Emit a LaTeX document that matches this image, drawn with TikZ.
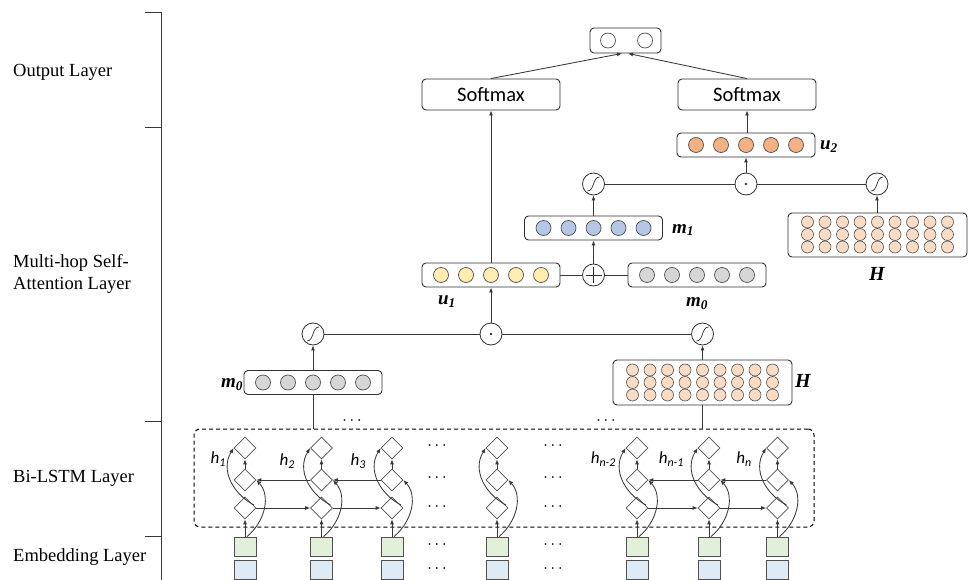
\documentclass[tikz,border=0pt]{standalone}
\usepackage{fontspec}
\setmainfont{Liberation Serif}
\newfontfamily\uifont{Carlito}
\usetikzlibrary{shapes.geometric,arrows.meta,calc}

\definecolor{lc}{HTML}{383838}
\definecolor{bc}{HTML}{303030}
\definecolor{cc}{HTML}{505050}
\definecolor{cOrange}{HTML}{F4B183}
\definecolor{cBlue}{HTML}{B4C7E7}
\definecolor{cGray}{HTML}{D6D6D6}
\definecolor{cYellow}{HTML}{FFECB0}
\definecolor{cPeach}{HTML}{FADCC5}
\definecolor{cGreen}{HTML}{E2F0D9}
\definecolor{cSky}{HTML}{DEEBF7}

\begin{document}
\begin{tikzpicture}[x=1pt,y=-1pt,
  ln/.style={draw=lc, line width=0.85pt},
  arr/.style={ln, -{Latex[length=5pt,width=4pt]}},
  vecbox/.style={draw=bc, fill=white, line width=0.9pt, rounded corners=4pt,
    minimum width=138pt, minimum height=24pt, inner sep=0pt},
  matbox/.style={vecbox, minimum width=179pt, minimum height=45pt},
  cell/.style={circle, draw=cc, line width=0.7pt, minimum size=15pt, inner sep=0pt},
  mcell/.style={circle, draw=cc, line width=0.6pt, minimum size=12pt, inner sep=0pt, fill=cPeach},
  opc/.style={circle, draw=bc, line width=0.8pt, minimum size=22pt, inner sep=0pt, fill=white},
  sigc/.style={opc, path picture={
      \draw[line width=0.7pt,draw=bc]
        ([shift={(-6pt,-7pt)}]path picture bounding box.center)
        .. controls +(7pt,0pt) and +(-7pt,0pt) ..
        ([shift={(6pt,7pt)}]path picture bounding box.center);}},
  dotc/.style={opc, path picture={
      \fill[bc] (path picture bounding box.center) circle (1.3pt);}},
  plusc/.style={opc, path picture={
      \draw[line width=0.8pt,draw=bc]
        ([xshift=-8pt]path picture bounding box.center) -- ([xshift=8pt]path picture bounding box.center)
        ([yshift=-8pt]path picture bounding box.center) -- ([yshift=8pt]path picture bounding box.center);}},
  softbox/.style={draw=bc, fill=white, line width=0.9pt, rounded corners=4pt,
    minimum width=138pt, minimum height=31pt, inner sep=0pt,
    font=\uifont\fontsize{20.5}{20.5}\selectfont},
  cellgate/.style={diamond, draw=cc, line width=0.7pt, minimum width=22pt, minimum height=22pt,
    inner sep=0pt, fill=white},
  embsq/.style={rectangle, draw=cc, line width=0.8pt, minimum width=22pt, minimum height=19pt, inner sep=0pt},
  layerlab/.style={anchor=west, inner sep=0pt, font=\fontsize{18.5}{21}\selectfont},
  varlab/.style={inner sep=0pt, font=\fontsize{19}{19}\selectfont\bfseries\itshape},
  hlab/.style={anchor=east, inner sep=0pt, font=\uifont\itshape\fontsize{17}{17}\selectfont},
  ell/.style={inner sep=0pt, font=\fontsize{15}{15}\selectfont}
]
\useasboundingbox (0,0) rectangle (969,580);

% ---------- layer bracket and labels ----------
\draw[lc, line width=0.9pt] (161,12) -- (161,580);
\foreach \yy in {12,127,421,536} \draw[lc, line width=0.9pt] (145,\yy) -- (161,\yy);
\node[layerlab] (lOut) at (13,72) {Output Layer};
\node[layerlab] (lAtt1) at (13,263) {Multi-hop Self-};
\node[layerlab] (lAtt2) at (13,285) {Attention Layer};
\node[layerlab] (lLstm) at (13,478) {Bi-LSTM Layer};
\node[layerlab] (lEmb) at (13,557) {Embedding Layer};

% ---------- output layer ----------
\node[vecbox, minimum width=71pt, minimum height=25pt] (out) at (625.5,40.5) {};
\node[cell, fill=white] (o1) at (608,40.5) {};
\node[cell, fill=white] (o2) at (645,40.5) {};
\node[softbox] (smL) at (491,94.5) {Softmax};
\node[softbox] (smR) at (747,94.5) {Softmax};
\draw[arr] (smL.north) -- ($(out.south)+(-3.5,0)$);
\draw[arr] (smR.north) -- ($(out.south)+(2.5,0)$);

% ---------- second hop ----------
\node[vecbox] (u2) at (746,145) {};
\foreach \i in {0,...,4} \node[cell, fill=cOrange] (u2c\i) at (696+\i*25,145) {};
\node[varlab] (u2lab) at (829,147) {u\textsubscript{2}};

\node[sigc] (sigA2) at (593.5,184) {};
\node[dotc] (dot2) at (746,184) {};
\node[sigc] (sigB2) at (877,184) {};

\node[vecbox] (m1) at (593.5,228) {};
\foreach \i in {0,...,4} \node[cell, fill=cBlue] (m1c\i) at (543.5+\i*25,228) {};
\node[varlab] (m1lab) at (683,230) {m\textsubscript{1}};

\node[matbox, minimum height=44pt] (H2) at (877.5,235) {};
\foreach \c in {0,...,8} \foreach \r in {0,1,2}
  \node[mcell] (H2c\c\r) at (807.5+\c*17.5, 222+\r*12.5) {};
\node[varlab, font=\fontsize{20}{20}\selectfont\bfseries\itshape] (H2lab) at (877,274) {H};

\node[vecbox] (u1) at (491,275) {};
\foreach \i in {0,...,4} \node[cell, fill=cYellow] (u1c\i) at (441+\i*25,275) {};
\node[varlab] (u1lab) at (447,302) {u\textsubscript{1}};

\node[plusc] (plus) at (593.5,275) {};

\node[vecbox] (m0R) at (697,275) {};
\foreach \i in {0,...,4} \node[cell, fill=cGray] (m0Rc\i) at (647+\i*25,275) {};
\node[varlab] (m0Rlab) at (697,304) {m\textsubscript{0}};

\draw[arr] (u2.north -| smR.south) -- (smR.south);
\draw[arr] (dot2.north) -- (u2.south);
\draw[ln] (sigA2.east) -- (dot2.west);
\draw[ln] (dot2.east) -- (sigB2.west);
\draw[arr] (m1.north) -- (sigA2.south);
\draw[arr] (plus.north) -- (m1.south);
\draw[arr] (H2.north -| sigB2.south) -- (sigB2.south);
\draw[ln] (u1.east) -- (plus.west);
\draw[ln] (plus.east) -- (m0R.west);
\draw[arr] (u1.north) -- (smL.south);

% ---------- first hop ----------
\node[sigc] (sigA1) at (313,334) {};
\node[dotc] (dot1) at (491,334) {};
\node[sigc] (sigB1) at (702.5,334) {};

\node[vecbox] (m0L) at (313,382.5) {};
\foreach \i in {0,...,4} \node[cell, fill=cGray] (m0Lc\i) at (263+\i*25,382.5) {};
\node[varlab] (m0Llab) at (232,385) {m\textsubscript{0}};

\node[matbox] (H1) at (702.5,382.5) {};
\foreach \c in {0,...,8} \foreach \r in {0,1,2}
  \node[mcell] (H1c\c\r) at (632.5+\c*17.5, 370+\r*12.5) {};
\node[varlab, font=\fontsize{20}{20}\selectfont\bfseries\itshape] (H1lab) at (803,381) {H};

\draw[arr] (dot1.north) -- (u1.south);
\draw[ln] (sigA1.east) -- (dot1.west);
\draw[ln] (dot1.east) -- (sigB1.west);
\draw[arr] (m0L.north) -- (sigA1.south);
\draw[arr] (H1.north) -- (sigB1.south);

% ---------- Bi-LSTM ----------
\node[draw=black, dashed, dash pattern=on 4pt off 3pt, line width=1pt, rounded corners=6pt,
  minimum width=620pt, minimum height=98pt, inner sep=0pt] (lstm) at (504,478) {};
\draw[ln] (m0L.south) -- (m0L.south |- lstm.north);
\draw[ln] (H1.south) -- (H1.south |- lstm.north);
\node[ell] (dtA) at (352,423) {·\,·\,·};
\node[ell] (dtB) at (606,423) {·\,·\,·};

\foreach \x [count=\k] in {245,321.5,392,497,637,709,777.5} {
  \node[cellgate] (T\k) at (\x,448) {};
  \node[cellgate] (M\k) at (\x,480) {};
  \node[cellgate] (B\k) at (\x,508) {};
  \node[embsq, fill=cGreen] (E\k) at (\x,546.5) {};
  \node[embsq, fill=cSky] (W\k) at (\x,570) {};
  \draw[arr] (E\k.north) -- (B\k.south);
  \draw[arr] (M\k.north) -- (T\k.south);
  \draw[arr] ($(B\k)+(9,-3)$) .. controls ($(B\k)+(-12,-14)$) and ($(T\k)+(-25,22)$) .. (T\k.west);
  \draw[arr] ($(E\k.north)+(2,0)$) .. controls ($(E\k.north)+(20,-15)$) and ($(M\k)+(26,16)$) .. (M\k.east);
}
\foreach \a/\b in {1/2,2/3,5/6,6/7} {
  \draw[arr] (B\a.east) -- (B\b.west);
  \draw[arr] (M\b.west) -- (M\a.east);
}
\foreach \xx in {437,553} {
  \foreach \yy in {448,480,509,547,571}
    \node[ell] at (\xx,\yy) {·\,·\,·};
}

\node[hlab] (h1) at (226,459) {h\textsubscript{1}};
\node[hlab] (h2) at (295,461) {h\textsubscript{2}};
\node[hlab] (h3) at (366,461) {h\textsubscript{3}};
\node[hlab] (hn2) at (616,459) {h\textsubscript{n-2}};
\node[hlab] (hn1) at (684,459) {h\textsubscript{n-1}};
\node[hlab] (hn) at (752,459) {h\textsubscript{n}};
\end{tikzpicture}
\end{document}
